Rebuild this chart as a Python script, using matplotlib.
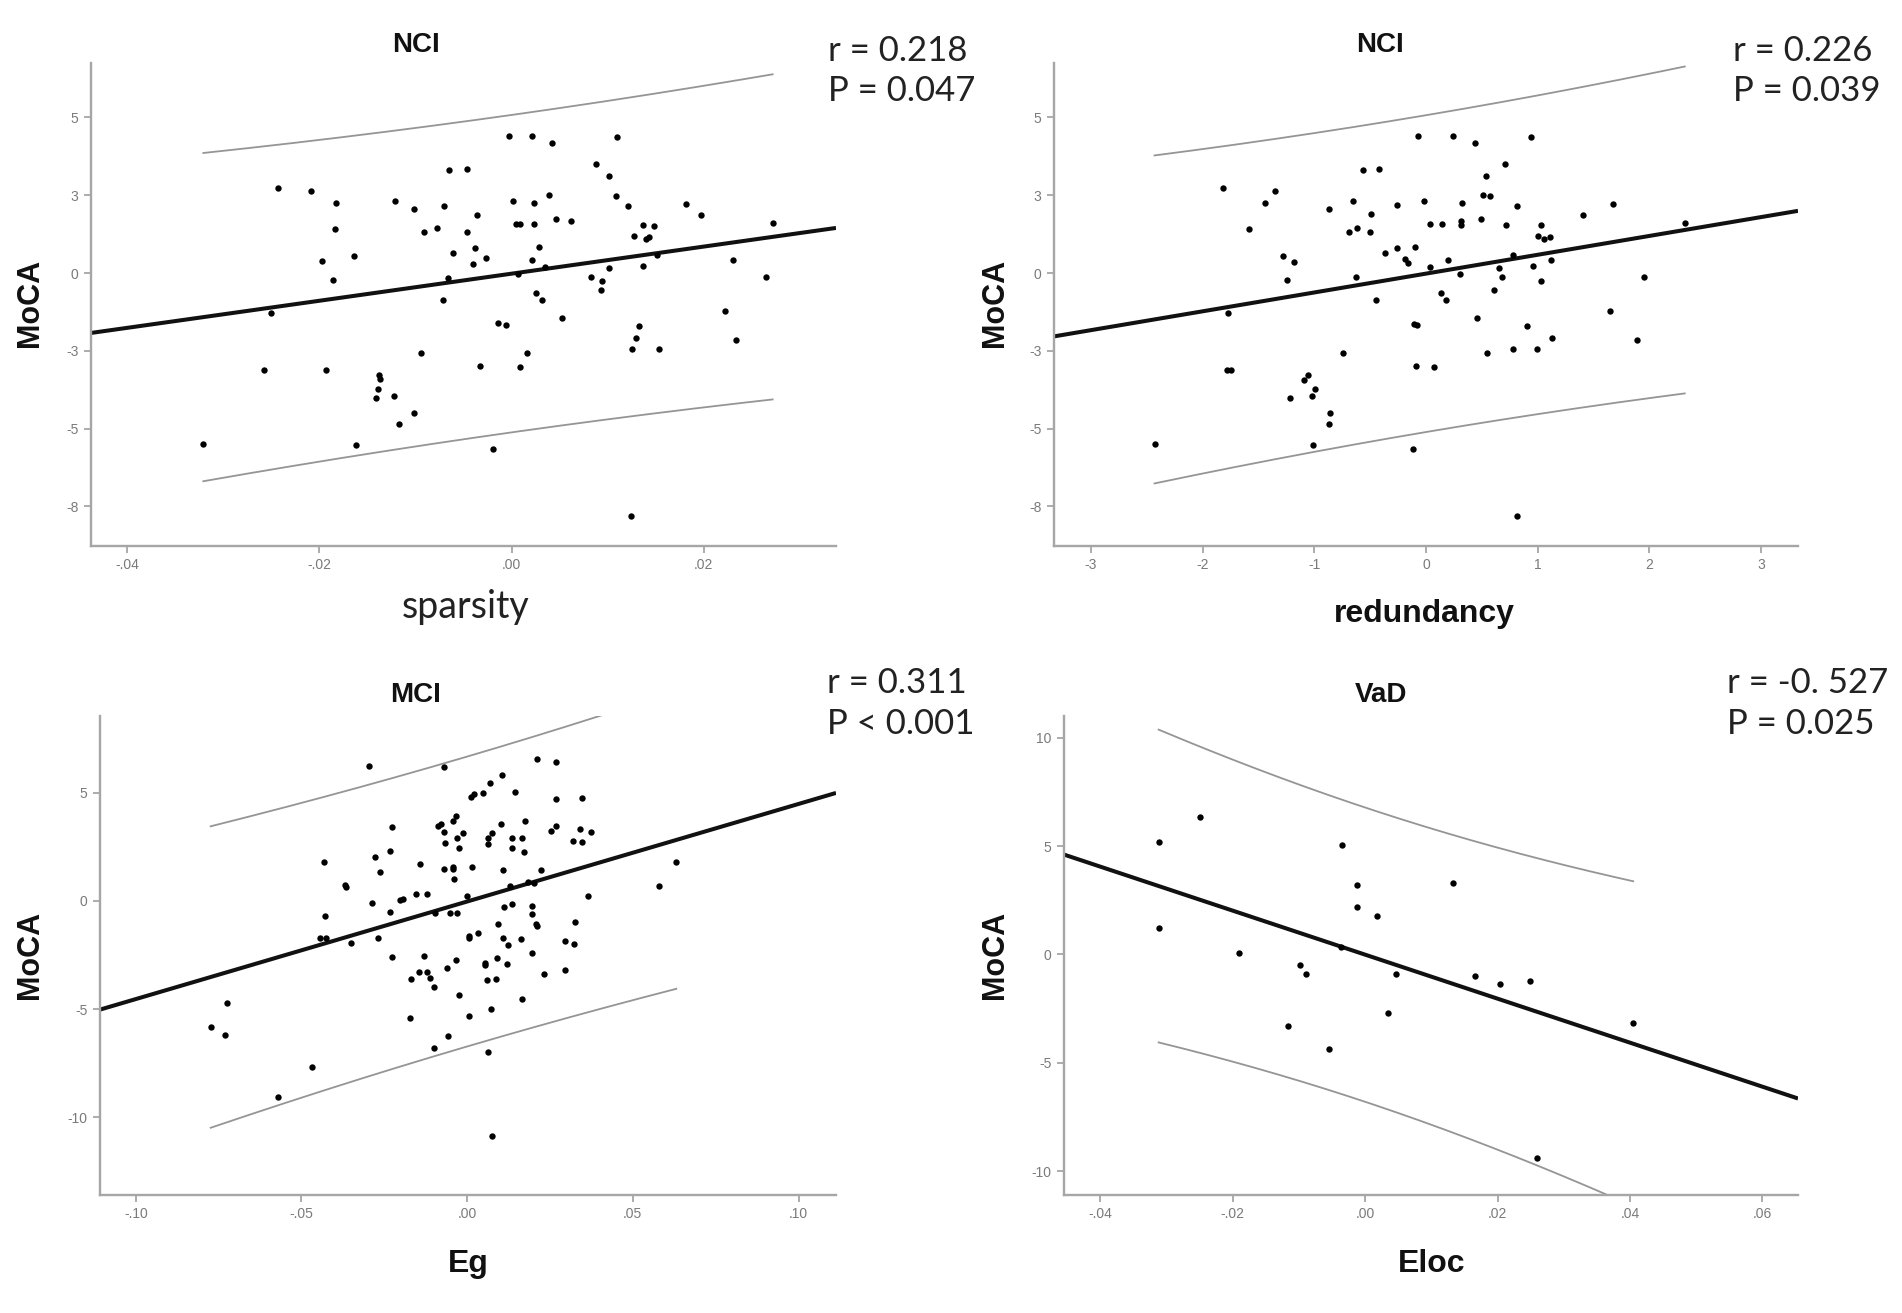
import numpy as np
import matplotlib
matplotlib.use('Agg')
import matplotlib.pyplot as plt

# ============================================================
# DATA
# ============================================================
# NCI group: sparsity vs MoCA
sparsity = [-0.0243, -0.0209, -0.0183, -0.0184, -0.0197, -0.0186, -0.0164, -0.0121, -0.0102, -0.0091,
            -0.0078, -0.0070, -0.0065, -0.0046, -0.0036, -0.0046, -0.0061, -0.0038, -0.0040, -0.0066,
            -0.0071, -0.0250, -0.0258, -0.0321, -0.0193, -0.0094, -0.0033, -0.0138, -0.0137, -0.0139,
            -0.0141, -0.0122, -0.0102, -0.0117, -0.0162,
            -0.0027, -0.0003, 0.0021, 0.0042, 0.0002, 0.0023, 0.0039, 0.0005, 0.0009, 0.0023,
            0.0046, 0.0062, 0.0029, 0.0021, 0.0035, 0.0007, 0.0026, 0.0032, 0.0053, -0.0014,
            -0.0006, 0.0016, 0.0009, -0.0019, 0.0088, 0.0110, 0.0102, 0.0109, 0.0121, 0.0137,
            0.0148, 0.0128, 0.0140, 0.0143, 0.0152, 0.0137, 0.0102, 0.0083, 0.0094, 0.0093,
            0.0133, 0.0130, 0.0125, 0.0154, 0.0124, 0.0182, 0.0197, 0.0231, 0.0265, 0.0222,
            0.0234, 0.0272]
moca_sparsity = [2.73, 2.65, 2.26, 1.41, 0.38, -0.23, 0.56, 2.30, 2.06, 1.31,
                 1.45, 2.17, 3.30, 3.35, 1.88, 1.32, 0.64, 0.80, 0.30, -0.15,
                 -0.85, -1.28, -3.13, -5.49, -3.11, -2.56, -3.00, -3.27, -3.40, -3.72,
                 -4.01, -3.94, -4.50, -4.85, -5.54,
                 0.47, 4.39, 4.41, 4.17, 2.30, 2.24, 2.50, 1.57, 1.57, 1.57,
                 1.73, 1.68, 0.85, 0.43, 0.19, -0.03, -0.64, -0.88, -1.44, -1.62,
                 -1.68, -2.58, -3.02, -5.65, 3.52, 4.36, 3.12, 2.47, 2.15, 1.53,
                 1.52, 1.19, 1.11, 1.16, 0.59, 0.23, 0.16, -0.14, -0.26, -0.55,
                 -1.71, -2.10, -2.44, -2.44, -7.81, 2.21, 1.88, 0.42, -0.14, -1.23,
                 -2.14, 1.62]

# NCI group: redundancy vs MoCA
redundancy = [-2.43, -1.82, -1.58, -1.44, -1.35, -1.28, -1.18, -1.24, -1.77, -1.78,
              -1.75, -1.22, -1.09, -1.06, -0.99, -1.02, -0.86, -0.87, -1.01, -0.74,
              -0.87, -0.56, -0.42, -0.65, -0.49, -0.69, -0.62, -0.50, -0.63, -0.45,
              -0.37, -0.26, -0.26, -0.10, -0.19, -0.16, -0.07, -0.02, 0.04, 0.14,
              0.04, 0.20, 0.13, 0.18, -0.11, -0.08, -0.09, 0.07, -0.12,
              0.245, 0.436, 0.943, 0.707, 0.540, 0.510, 0.576, 0.325, 0.812, 0.310,
              0.310, 0.493, 0.719, 1.033, 1.003, 1.06, 1.113, 1.406, 1.678, 2.316,
              0.301, 0.651, 0.779, 0.958, 1.116, 0.684, 1.027, 0.609, 0.457, 0.904,
              1.125, 0.543, 0.779, 0.997, 1.648, 1.949, 1.893, 0.815]
moca_redundancy = [-5.49, 2.73, 1.41, 2.26, 2.65, 0.56, 0.36, -0.23, -1.28, -3.11,
                   -3.11, -4.01, -3.42, -3.27, -3.72, -3.94, -4.49, -4.85, -5.53, -2.56,
                   2.06, 3.30, 3.35, 2.30, 1.89, 1.31, 1.45, 1.32, -0.14, -0.85,
                   0.64, 0.80, 2.18, 0.85, 0.46, 0.32, 4.39, 2.30, 1.57, 1.57,
                   0.19, 0.43, -0.64, -0.88, -1.63, -1.68, -2.99, -3.03, -5.65,
                   4.41, 4.17, 4.36, 3.52, 3.12, 2.50, 2.48, 2.25, 2.15, 1.67,
                   1.55, 1.73, 1.54, 1.54, 1.19, 1.08, 1.16, 1.88, 2.21, 1.62,
                   -0.03, 0.17, 0.59, 0.23, 0.42, -0.14, -0.26, -0.55, -1.44, -1.71,
                   -2.10, -2.58, -2.44, -2.44, -1.23, -0.14, -2.14, -7.81]

# MCI group: Eg vs MoCA
eg = [-0.0296, -0.0070, -0.0433, -0.0429, -0.0444, -0.0427, -0.0370, -0.0365, -0.0350, -0.0288,
      -0.0278, -0.0264, -0.0232, -0.0228, -0.0234, -0.0269, -0.0226, -0.0204, -0.0194, -0.0155,
      -0.0120, -0.0143, -0.0131, -0.0168, -0.0145, -0.0121, -0.0111, -0.0099, -0.0173, -0.0099,
      -0.0057, -0.0061, -0.0035, -0.0024, 0.0006, -0.0098, -0.0052, -0.0032, -0.0088, -0.0078,
      -0.0067, -0.0071, -0.0044, -0.0034, -0.0032, -0.0024, -0.0012, -0.0070, -0.0042, -0.0042,
      -0.0040, 0.0016, -0.0002, 0.0006, 0.0006, 0.0034, 0.0013, 0.0020, 0.0048, -0.0726,
      -0.0774, -0.0731, -0.0469, -0.0571,
      0.0068, 0.0106, 0.0143, 0.0212, 0.0267, 0.0269, 0.0346, 0.0101, 0.0173, 0.0064,
      0.0076, 0.0063, 0.0136, 0.0166, 0.0134, 0.0172, 0.0252, 0.0267, 0.0318, 0.0340,
      0.0348, 0.0373, 0.0108, 0.0222, 0.0129, 0.0185, 0.0202, 0.0366, 0.0580, 0.0631,
      0.0111, 0.0136, 0.0195, 0.0195, 0.0207, 0.0212, 0.0094, 0.0324, 0.0108, 0.0124,
      0.0161, 0.0296, 0.0321, 0.0195, 0.0055, 0.0055, 0.0089, 0.0121, 0.0061, 0.0088,
      0.0232, 0.0296, 0.0071, 0.0166, 0.0064, 0.0074]
moca_eg = [6.26, 6.20, 1.82, -0.71, -1.70, -1.73, 0.75, 0.65, -1.95, -0.08,
           2.03, 1.32, 2.33, 3.41, -0.51, -1.73, -2.58, 0.02, 0.10, 0.33,
           0.30, 1.71, -2.54, -3.62, -3.31, -3.28, -3.57, -3.98, -5.42, -6.82,
           -6.25, -3.09, -2.73, -4.34, -5.30, -0.55, -0.55, -0.55, 3.46, 3.57,
           2.66, 3.19, 3.68, 3.93, 2.90, 2.46, 3.14, 1.47, 1.59, 1.47,
           1.00, 1.55, 0.24, -1.62, -1.73, -1.47, 4.80, 4.96, 4.99, -4.71,
           -5.85, -6.20, -7.67, -9.05,
           5.47, 5.83, 5.04, 6.58, 6.42, 4.72, 4.76, 3.54, 3.69, 2.93,
           3.14, 2.62, 2.90, 2.90, 2.46, 2.27, 3.25, 3.46, 2.79, 3.33,
           2.74, 3.17, 1.44, 1.43, 0.68, 0.87, 0.81, 0.24, 0.67, 1.79,
           -0.27, -0.14, -0.22, -0.59, -1.06, -1.14, -1.06, -0.97, -1.70, -2.05,
           -1.78, -1.86, -2.01, -2.41, -2.96, -2.89, -2.65, -2.92, -3.68, -3.60,
           -3.39, -3.20, -4.99, -4.52, -6.98, -10.89]

# VaD group: Eloc vs MoCA
eloc = [-0.0312, -0.0250, -0.0312, -0.0190, -0.0098, -0.0089, -0.0116, -0.0055, -0.0035, -0.0036,
        -0.0013, -0.0013, 0.0018, 0.0047, 0.0035, 0.0132, 0.0166, 0.0203, 0.0249, 0.0405,
        0.0260]
moca_eloc = [5.18, 6.33, 1.22, 0.05, -0.51, -0.90, -3.29, -4.35, 5.07, 0.32,
             3.20, 2.17, 1.79, -0.90, -2.69, 3.28, -1.00, -1.38, -1.24, -3.17,
             -9.37]

titles = ['NCI', 'NCI', 'MCI', 'VaD']
xlabels = ['sparsity', 'redundancy', 'Eg', 'Eloc']
r_texts = ['r = 0.218', 'r = 0.226', 'r = 0.311', 'r = -0. 527']
p_texts = ['P = 0.047', 'P = 0.039', 'P < 0.001', 'P = 0.025']

xticks_1 = [-0.04, -0.02, 0.00, 0.02]
xticklabels_1 = ['-.04', '-.02', '.00', '.02']
xticks_2 = [-3, -2, -1, 0, 1, 2, 3]
xticklabels_2 = ['-3', '-2', '-1', '0', '1', '2', '3']
xticks_3 = [-0.10, -0.05, 0.00, 0.05, 0.10]
xticklabels_3 = ['-.10', '-.05', '.00', '.05', '.10']
xticks_4 = [-0.04, -0.02, 0.00, 0.02, 0.04, 0.06]
xticklabels_4 = ['-.04', '-.02', '.00', '.02', '.04', '.06']
yticks_nci = [5, 2.5, 0, -2.5, -5, -7.5]
yticklabels_nci = ['5', '3', '0', '-3', '-5', '-8']
yticks_3 = [5, 0, -5, -10]
yticklabels_3 = ['5', '0', '-5', '-10']
yticks_4 = [10, 5, 0, -5, -10]
yticklabels_4 = ['10', '5', '0', '-5', '-10']

# ============================================================
# LAYOUT
# ============================================================
W, H = 1902, 1313
fig = plt.figure(figsize=(W / 100, H / 100), dpi=100)
fig.patch.set_facecolor('white')

AXIS_GRAY = '#a6a6a6'
TICK_GRAY = '#7a7a7a'
PI_GRAY = '#959595'


def px_axes(x0, x1, ytop, ybot):
    return fig.add_axes([x0 / W, 1 - ybot / H, (x1 - x0) / W, (ybot - ytop) / H])


def px_text(x, y, s, **kw):
    fig.text(x / W, 1 - y / H, s, **kw)


def t975(df):
    # Cornish-Fisher expansion of the t quantile
    z = 1.959964
    g1 = (z**3 + z) / 4
    g2 = (5 * z**5 + 16 * z**3 + 3 * z) / 96
    g3 = (3 * z**7 + 19 * z**5 + 17 * z**3 - 15 * z) / 384
    return z + g1 / df + g2 / df**2 + g3 / df**3


def draw_panel(ax, x, y, xlim, ylim, xticks, xticklabels, yticks, yticklabels):
    x = np.asarray(x, float)
    y = np.asarray(y, float)
    n = len(x)
    b, a = np.polyfit(x, y, 1)
    resid = y - (a + b * x)
    s = np.sqrt(np.sum(resid**2) / (n - 2))
    xbar = x.mean()
    sxx = np.sum((x - xbar)**2)

    # 95% individual prediction interval over the data range
    xx = np.linspace(x.min(), x.max(), 200)
    half = t975(n - 2) * s * np.sqrt(1 + 1 / n + (xx - xbar)**2 / sxx)
    ax.plot(xx, a + b * xx + half, color=PI_GRAY, lw=1.3, zorder=2)
    ax.plot(xx, a + b * xx - half, color=PI_GRAY, lw=1.3, zorder=2)

    # fit line across the whole axis
    xl = np.array(xlim)
    ax.plot(xl, a + b * xl, color='#111111', lw=2.9, zorder=2, solid_capstyle='butt')

    ax.scatter(x, y, s=21, c='black', linewidths=0, zorder=3)

    ax.set_xlim(xlim)
    ax.set_ylim(ylim)
    ax.set_xticks(xticks)
    ax.set_xticklabels(xticklabels)
    ax.set_yticks(yticks)
    ax.set_yticklabels(yticklabels)
    for side in ['top', 'right']:
        ax.spines[side].set_visible(False)
    for side in ['left', 'bottom']:
        ax.spines[side].set_color(AXIS_GRAY)
        ax.spines[side].set_linewidth(1.7)
    ax.tick_params(direction='out', length=5, width=1.3, color=AXIS_GRAY,
                   labelcolor=TICK_GRAY, labelsize=10, pad=4)
    for lab in ax.get_xticklabels() + ax.get_yticklabels():
        lab.set_family('Liberation Sans')


ax1 = px_axes(91, 836, 63, 546)
draw_panel(ax1, sparsity, moca_sparsity, (-0.0438, 0.0338), (-8.77, 6.75),
           xticks_1, xticklabels_1, yticks_nci, yticklabels_nci)
ax2 = px_axes(1054, 1798, 63, 546)
draw_panel(ax2, redundancy, moca_redundancy, (-3.33, 3.33), (-8.77, 6.75),
           xticks_2, xticklabels_2, yticks_nci, yticklabels_nci)
ax3 = px_axes(100, 836, 716, 1195)
draw_panel(ax3, eg, moca_eg, (-0.1108, 0.1113), (-13.6, 8.55),
           xticks_3, xticklabels_3, yticks_3, yticklabels_3)
ax4 = px_axes(1064, 1798, 716, 1195)
draw_panel(ax4, eloc, moca_eloc, (-0.0455, 0.0654), (-11.1, 11.0),
           xticks_4, xticklabels_4, yticks_4, yticklabels_4)

# ============================================================
# TEXT
# ============================================================
bold = dict(family='Liberation Sans', fontweight='bold', color='#111111')
title_pos = [(416, 45), (1380, 45), (416, 695), (1381, 695)]
for (tx, ty), t in zip(title_pos, titles):
    px_text(tx, ty, t, fontsize=20, ha='center', va='center', **bold)

ylabel_pos = [(30, 303), (995, 303), (30, 955), (995, 955)]
for (tx, ty) in ylabel_pos:
    px_text(tx, ty, 'MoCA', fontsize=22, ha='center', va='center', rotation=90, **bold)

xlabel_pos = [(466, 607), (1424, 614), (468, 1264), (1432, 1264)]
for i, ((tx, ty), t) in enumerate(zip(xlabel_pos, xlabels)):
    if i == 0:
        px_text(tx, ty, t, fontsize=27, ha='center', va='center', family='Lato', color='#222222')
    else:
        px_text(tx, ty, t, fontsize=23, ha='center', va='center', **bold)

stat_pos = [(828, 51, 91), (1733, 51, 91), (827, 683, 724), (1727, 683, 724)]
for (sx, ry, py), rt, pt in zip(stat_pos, r_texts, p_texts):
    px_text(sx, ry, rt, fontsize=25, ha='left', va='center', family='Lato', color='#222222')
    px_text(sx, py, pt, fontsize=25, ha='left', va='center', family='Lato', color='#222222')

fig.savefig('out.png', dpi=100, facecolor='white')
